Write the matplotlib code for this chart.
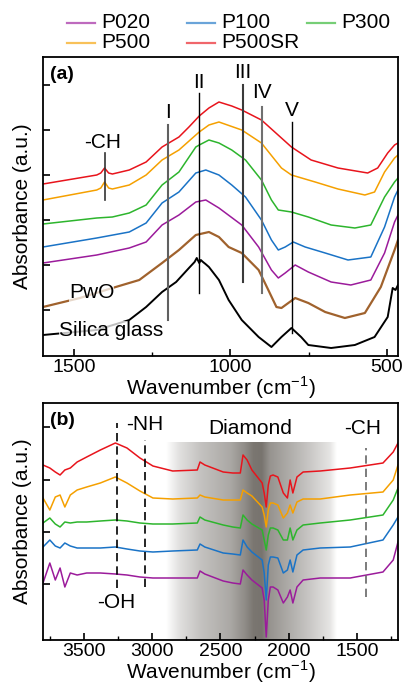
import numpy as np
import matplotlib
matplotlib.use('Agg')
import matplotlib.pyplot as plt
from matplotlib.lines import Line2D

plt.rcParams['font.family'] = ['Liberation Sans', 'DejaVu Sans']
plt.rcParams['mathtext.fontset'] = 'custom'
plt.rcParams['mathtext.rm'] = 'Liberation Sans'

# ---- panel (a): mid-IR, each curve has its own wavenumber points ----
wn_red_a = [1600, 1428, 1415, 1403, 1390, 1378, 1324, 1270, 1219, 1165, 1133, 1100, 1069, 1037, 996, 964, 901, 805, 742, 656, 561, 529, 497, 475, 464]
ab_red_a = [1.72, 1.81, 1.83, 1.88, 1.83, 1.82, 1.86, 1.94, 2.09, 2.19, 2.29, 2.40, 2.48, 2.54, 2.50, 2.46, 2.36, 2.09, 1.96, 1.88, 1.83, 1.88, 2.03, 2.11, 2.13]

wn_orange_a = [1600, 1428, 1415, 1403, 1390, 1378, 1324, 1270, 1219, 1165, 1111, 1100, 1069, 1037, 964, 901, 837, 805, 729, 656, 570, 539, 507, 475, 464]
ab_orange_a = [1.56, 1.66, 1.68, 1.74, 1.68, 1.67, 1.71, 1.81, 1.96, 2.06, 2.21, 2.24, 2.31, 2.34, 2.26, 2.13, 1.88, 1.81, 1.74, 1.67, 1.61, 1.64, 1.84, 1.98, 2.01]

wn_green_a = [1600, 1428, 1378, 1324, 1270, 1219, 1165, 1111, 1100, 1069, 1037, 996, 952, 901, 869, 847, 805, 751, 678, 602, 551, 507, 475, 464]
ab_green_a = [1.32, 1.38, 1.39, 1.43, 1.51, 1.71, 1.84, 2.09, 2.11, 2.16, 2.13, 2.06, 1.96, 1.76, 1.56, 1.46, 1.44, 1.39, 1.31, 1.28, 1.31, 1.59, 1.74, 1.78]

wn_blue_a = [1600, 1428, 1324, 1270, 1219, 1165, 1111, 1079, 1037, 996, 952, 901, 869, 847, 825, 799, 761, 697, 624, 551, 507, 475, 464]
ab_blue_a = [1.09, 1.18, 1.24, 1.33, 1.53, 1.64, 1.83, 1.86, 1.81, 1.71, 1.59, 1.36, 1.16, 1.06, 1.09, 1.14, 1.09, 1.03, 0.96, 0.99, 1.29, 1.59, 1.66]

wn_purple_a = [1600, 1428, 1324, 1270, 1219, 1165, 1111, 1079, 1037, 964, 910, 869, 847, 825, 793, 751, 678, 615, 551, 507, 475, 464]
ab_purple_a = [0.93, 1.01, 1.08, 1.14, 1.31, 1.41, 1.54, 1.56, 1.48, 1.31, 1.09, 0.86, 0.78, 0.83, 0.91, 0.84, 0.74, 0.71, 0.76, 1.03, 1.34, 1.41]

wn_pwo = [1600, 1482, 1378, 1292, 1219, 1165, 1111, 1069, 1037, 1006, 964, 910, 879, 853, 837, 793, 751, 697, 634, 570, 519, 475, 464]
ab_pwo = [0.49, 0.58, 0.68, 0.76, 0.93, 1.06, 1.21, 1.24, 1.19, 1.09, 1.03, 0.86, 0.66, 0.49, 0.48, 0.58, 0.53, 0.44, 0.38, 0.43, 0.69, 1.06, 1.16]

wn_silica = [1600, 1428, 1324, 1270, 1219, 1174, 1133, 1115, 1108, 1100, 1095, 1088, 1080, 1069, 1037, 1006, 964, 910, 869, 837, 805, 774, 751, 678, 602, 539, 497, 481, 472, 464]
ab_silica = [0.21, 0.26, 0.36, 0.49, 0.64, 0.74, 0.88, 0.94, 0.98, 0.93, 0.96, 0.94, 0.92, 0.89, 0.76, 0.56, 0.36, 0.19, 0.09, 0.19, 0.28, 0.19, 0.11, 0.08, 0.11, 0.19, 0.39, 0.68, 0.66, 0.71]

# band markers in (a): position, top, bottom
band_labels = ['I', 'II', 'III', 'IV', 'V']
band_wn = [1200, 1100, 960, 900, 803]
band_top = [2.31, 2.63, 2.71, 2.49, 2.34]
band_bot = [0.36, 0.63, 0.74, 0.63, 0.23]
band_text_y = [2.44, 2.74, 2.84, 2.63, 2.46]

# ---- panel (b): near-IR / diamond window, shared wavenumber grid ----
wn_b = [3800, 3750, 3710, 3675, 3640, 3600, 3550, 3480, 3380, 3270, 3185, 3090, 2995, 2850, 2670, 2650, 2615,
        2480, 2410, 2355, 2335, 2305, 2270, 2195, 2180, 2165, 2150, 2135, 2115, 2080, 2040, 2010, 1990, 1970,
        1940, 1895, 1770, 1550, 1310, 1235, 1200]
ab_red_b = [1.75, 1.72, 1.68, 1.65, 1.70, 1.72, 1.78, 1.83, 1.90, 1.97, 1.92, 1.82, 1.74, 1.69, 1.70, 1.78, 1.75,
            1.68, 1.67, 1.67, 1.85, 1.80, 1.70, 1.57, 1.47, 1.33, 1.55, 1.64, 1.65, 1.63, 1.47, 1.42, 1.60, 1.47,
            1.63, 1.68, 1.69, 1.72, 1.77, 1.88, 1.97]
ab_orange_b = [1.42, 1.30, 1.43, 1.45, 1.33, 1.45, 1.50, 1.53, 1.57, 1.63, 1.57, 1.49, 1.42, 1.41, 1.42, 1.45, 1.43,
               1.40, 1.40, 1.40, 1.50, 1.47, 1.44, 1.33, 1.25, 1.13, 1.30, 1.37, 1.37, 1.35, 1.22, 1.27, 1.35, 1.27,
               1.38, 1.41, 1.41, 1.45, 1.48, 1.60, 1.75]
ab_green_b = [1.17, 1.22, 1.16, 1.13, 1.18, 1.17, 1.18, 1.18, 1.19, 1.20, 1.19, 1.17, 1.16, 1.16, 1.17, 1.23, 1.20,
              1.15, 1.13, 1.12, 1.25, 1.20, 1.16, 1.10, 1.00, 0.90, 1.05, 1.12, 1.12, 1.10, 1.00, 1.00, 1.12, 1.00,
              1.10, 1.15, 1.17, 1.20, 1.25, 1.40, 1.52]
ab_blue_b = [0.93, 1.00, 0.94, 0.92, 0.97, 0.94, 0.92, 0.92, 0.92, 0.93, 0.91, 0.89, 0.88, 0.89, 0.90, 0.96, 0.93,
             0.87, 0.86, 0.85, 1.00, 0.93, 0.88, 0.80, 0.67, 0.40, 0.75, 0.83, 0.83, 0.82, 0.67, 0.70, 0.80, 0.68,
             0.85, 0.90, 0.92, 0.93, 1.00, 1.15, 1.23]
ab_purple_b = [0.57, 0.77, 0.60, 0.72, 0.53, 0.67, 0.65, 0.67, 0.67, 0.66, 0.65, 0.63, 0.62, 0.62, 0.62, 0.69, 0.66,
               0.59, 0.57, 0.56, 0.70, 0.65, 0.60, 0.52, 0.40, 0.03, 0.40, 0.53, 0.53, 0.50, 0.37, 0.43, 0.50, 0.37,
               0.53, 0.60, 0.62, 0.62, 0.68, 0.80, 0.98]

group_labels = ['-OH', '-NH', '-CH']
group_wn = [3260, 3055, 1435]
group_top = [2.17, 2.00, 1.92]
group_bot = [0.52, 0.53, 0.43]

sample_names = ['P020', 'P100', 'P300', 'P500', 'P500SR']
sample_colors = ['#9b1b9b', '#1a73c6', '#2db52d', '#f5a000', '#e8141c']

# diamond window shading profile
shade_wn = [2900, 2800, 2650, 2430, 2320, 2260, 2200, 2140, 1990, 1845, 1700, 1650]
shade_gray = [1.0, 0.88, 0.77, 0.67, 0.56, 0.48, 0.47, 0.59, 0.69, 0.79, 0.90, 1.0]

fig = plt.figure(figsize=(4.06, 6.86), dpi=100)
W, H = 406.0, 686.0
ax1 = fig.add_axes([43 / W, 1 - 356 / H, 355 / W, 299 / H])
ax2 = fig.add_axes([43 / W, 1 - 640 / H, 355 / W, 237 / H])

# --- (a)
ax1.plot(wn_silica, ab_silica, color='black', lw=1.4)
ax1.plot(wn_pwo, ab_pwo, color='#a0622d', lw=1.6)
for wn, ab, c in [(wn_purple_a, ab_purple_a, sample_colors[0]),
                  (wn_blue_a, ab_blue_a, sample_colors[1]),
                  (wn_green_a, ab_green_a, sample_colors[2]),
                  (wn_orange_a, ab_orange_a, sample_colors[3]),
                  (wn_red_a, ab_red_a, sample_colors[4])]:
    ax1.plot(wn, ab, color=c, lw=1.1)

band_colors = ['#606060', 'black', '#3a3a3a', '#707070', 'black']
band_lw = [1.5, 1.0, 1.5, 1.5, 1.0]
for lab, x, t, b, ty, c, lw in zip(band_labels, band_wn, band_top, band_bot, band_text_y, band_colors, band_lw):
    ax1.plot([x, x], [b, t], color=c, lw=lw)
    ax1.text(x, ty, lab, ha='center', va='center', fontsize=15)

ax1.plot([1403, 1403], [1.56, 2.03], color='#333333', lw=1.2)
ax1.text(1409, 2.13, '-CH', ha='center', va='center', fontsize=15)
ax1.text(1444, 0.64, 'PwO', ha='center', va='center', fontsize=15,
         bbox=dict(facecolor='white', alpha=0.75, edgecolor='none', pad=0))
ax1.text(1381, 0.26, 'Silica glass', ha='center', va='center', fontsize=15,
         bbox=dict(facecolor='white', alpha=0.75, edgecolor='none', pad=0))
ax1.text(0.02, 0.94, '(a)', transform=ax1.transAxes, ha='left', va='center', fontsize=14, fontweight='bold')

ax1.set_xlim(1600, 464)
ax1.set_ylim(0, 2.99)
ax1.set_xticks([1500, 1000, 500])
ax1.set_xticks([1250, 750], minor=True)
ax1.set_yticks([0.46, 0.91, 1.36, 1.81, 2.26, 2.71])
ax1.set_yticklabels([])

# --- (b)
xs = np.linspace(2900, 1650, 400)
g = np.interp(xs[::-1], shade_wn[::-1], shade_gray[::-1])[::-1]
img = np.zeros((2, len(xs), 3))
img[:, :, 0] = g
img[:, :, 1] = g - (1 - g) * 0.03
img[:, :, 2] = g - (1 - g) * 0.07
ax2.imshow(np.clip(img, 0, 1), extent=[2900, 1650, 0, 1.98], aspect='auto', zorder=0)

for ab, c in zip([ab_purple_b, ab_blue_b, ab_green_b, ab_orange_b, ab_red_b], sample_colors):
    ax2.plot(wn_b, ab, color=c, lw=1.1, zorder=2)

for lab, x, t, b in zip(group_labels, group_wn, group_top, group_bot):
    c = '#666666' if lab == '-CH' else 'black'
    ax2.plot([x, x], [b, t], color=c, lw=1.2, ls=(0, (5, 3)), zorder=3)

ax2.text(3053, 2.15, '-NH', ha='center', va='center', fontsize=15)
ax2.text(2284, 2.12, 'Diamond', ha='center', va='center', fontsize=15)
ax2.text(1456, 2.12, '-CH', ha='center', va='center', fontsize=15)
ax2.text(3265, 0.38, '-OH', ha='center', va='center', fontsize=15)
ax2.text(0.02, 0.928, '(b)', transform=ax2.transAxes, ha='left', va='center', fontsize=14, fontweight='bold')

ax2.set_xlim(3800, 1200)
ax2.set_ylim(0, 2.37)
ax2.set_xticks([3500, 3000, 2500, 2000, 1500])
ax2.set_xticks([3750, 3250, 2750, 2250, 1750, 1250], minor=True)
ax2.set_yticks([0.56, 1.08, 1.60, 2.13])
ax2.set_yticklabels([])

for ax in (ax1, ax2):
    for s in ax.spines.values():
        s.set_linewidth(1.3)
    ax.tick_params(which='major', direction='in', length=5, width=1.2, labelsize=14, pad=2)
    ax.tick_params(which='minor', direction='in', length=3, width=1.0)
    ax.set_xlabel('Wavenumber (cm$^{\\mathregular{-1}}$)', fontsize=15, labelpad=-1)
    ax.set_ylabel('Absorbance (a.u.)', fontsize=15, labelpad=6)

# legend drawn by hand, Origin style
leg_x = [67, 187, 307, 67, 187]
leg_y = [23, 23, 23, 43, 43]
for name, c, x, y in zip(sample_names, sample_colors, leg_x, leg_y):
    fig.add_artist(Line2D([x / W, (x + 28) / W], [1 - y / H, 1 - y / H], transform=fig.transFigure,
                          color=c, lw=1.6, alpha=0.65))
    fig.text((x + 34) / W, 1 - y / H, name, ha='left', va='center', fontsize=15)

fig.savefig('out.png', dpi=100)
